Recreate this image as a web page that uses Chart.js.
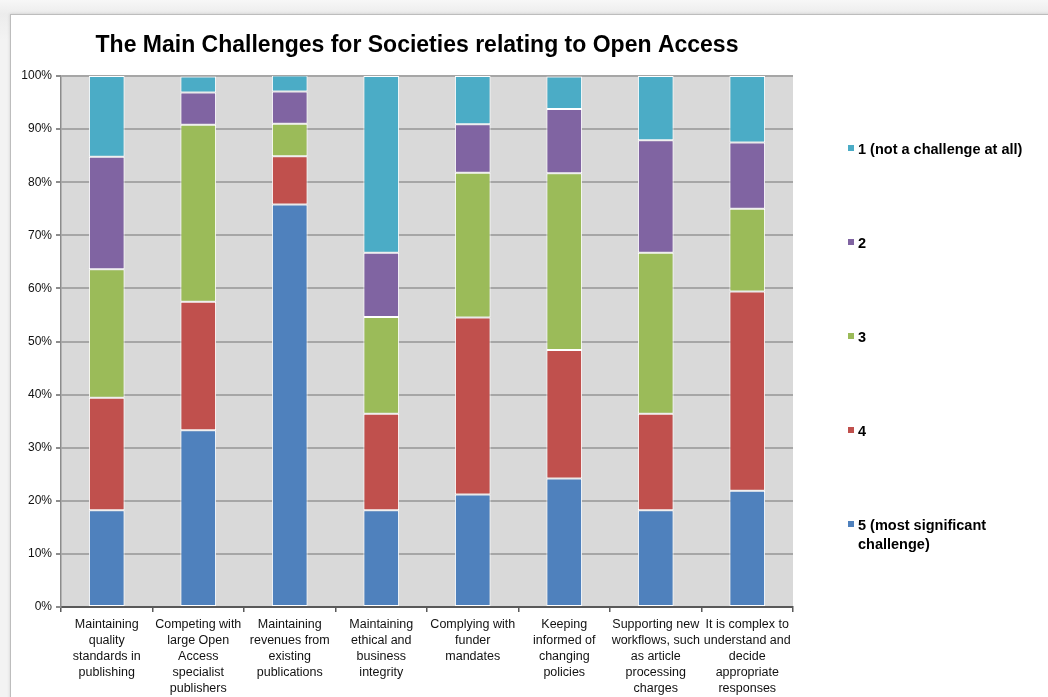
<!DOCTYPE html>
<html>
<head>
<meta charset="utf-8">
<script src="https://cdn.jsdelivr.net/npm/chart.js@4"></script>
<style>
  html, body { margin: 0; padding: 0; }
  body {
    width: 1048px; height: 697px; overflow: hidden;
    background: linear-gradient(#f7f7f7, #ececec 14px, #f3f3f3 40px);
    font-family: "Liberation Sans", Arial, sans-serif;
  }
  .frame {
    position: absolute; left: 10px; top: 14px;
    width: 1040px; height: 690px;
    background: #fff;
    border: 1px solid #bdbdbd;
    box-shadow: 0 0 3px rgba(0,0,0,0.15);
  }
  canvas { display: block; }
</style>
</head>
<body>
<div class="frame">
  <canvas id="challengeChart" width="1037" height="682"></canvas>
</div>
<script>
// challenges (x axis categories), wrapped the way the original shows them
const categories = [
    ['Maintaining', 'quality', 'standards in', 'publishing'],
    ['Competing with', 'large Open', 'Access', 'specialist', 'publishers'],
    ['Maintaining', 'revenues from', 'existing', 'publications'],
    ['Maintaining', 'ethical and', 'business', 'integrity'],
    ['Complying with', 'funder', 'mandates'],
    ['Keeping', 'informed of', 'changing', 'policies'],
    ['Supporting new', 'workflows, such', 'as article', 'processing', 'charges'],
    ['It is complex to', 'understand and', 'decide', 'appropriate', 'responses']
];

// share of respondents (%) for each rating
const rating5 = [18.2, 33.3, 75.8, 18.2, 21.2, 24.2, 18.2, 21.9];
const rating4 = [21.2, 24.2, 9.1, 18.2, 33.3, 24.2, 18.2, 37.5];
const rating3 = [24.2, 33.3, 6.1, 18.2, 27.3, 33.3, 30.3, 15.6];
const rating2 = [21.2, 6.1, 6.1, 12.1, 9.1, 12.1, 21.2, 12.5];
const rating1 = [15.2, 3.0, 3.0, 33.3, 9.1, 6.1, 12.1, 12.5];

const seriesNames = ['5 (most significant challenge)', '4', '3', '2', '1 (not a challenge at all)'];
const yTicks = [0, 10, 20, 30, 40, 50, 60, 70, 80, 90, 100];

const chartTitle = 'The Main Challenges for Societies relating to Open Access';

const colors = ['#4f81bd', '#c0504d', '#9bbb59', '#8064a2', '#4bacc6'];

const FONT = '"Liberation Sans", Arial, sans-serif';

// grey plot background behind the bars
const plotBackground = {
    id: 'plotBackground',
    beforeDraw(chart) {
        const { ctx, chartArea: a } = chart;
        ctx.save();
        ctx.fillStyle = '#d9d9d9';
        ctx.fillRect(a.left, a.top, a.right - a.left, a.bottom - a.top);
        ctx.restore();
    }
};

// title + right-hand legend (1 at top, 5 at bottom)
const titleAndLegend = {
    id: 'titleAndLegend',
    afterDraw(chart) {
        const ctx = chart.ctx;
        ctx.save();
        ctx.fillStyle = '#000';
        ctx.font = 'bold 23px ' + FONT;
        ctx.textAlign = 'center';
        ctx.textBaseline = 'middle';
        ctx.fillText(chartTitle, 406, 31);

        ctx.font = 'bold 14.5px ' + FONT;
        ctx.textAlign = 'left';
        const items = chart.data.datasets.slice().reverse();
        items.forEach((ds, i) => {
            const y = 135 + i * 94;
            ctx.fillStyle = ds.backgroundColor;
            ctx.fillRect(837, y - 5, 6, 6);
            ctx.fillStyle = '#000';
            const lines = ds.label === seriesNames[0] ? ['5 (most significant', 'challenge)'] : [ds.label];
            lines.forEach((t, j) => ctx.fillText(t, 847, y + j * 19));
        });
        ctx.restore();
    }
};

const seriesData = [rating5, rating4, rating3, rating2, rating1];

new Chart(document.getElementById('challengeChart'), {
    type: 'bar',
    data: {
        labels: categories,
        datasets: seriesData.map((d, i) => ({
            label: seriesNames[i],
            data: d,
            backgroundColor: colors[i],
            borderColor: '#ffffff',
            borderWidth: 1,
            borderSkipped: false,
            barPercentage: 0.39,
            categoryPercentage: 1
        }))
    },
    options: {
        responsive: false,
        animation: false,
        layout: { padding: { top: 61, right: 255, left: 0, bottom: 0 } },
        plugins: {
            legend: { display: false },
            title: { display: false },
            tooltip: { enabled: false }
        },
        scales: {
            x: {
                stacked: true,
                afterFit(s) { s.height = 90; },
                grid: {
                    offset: true,
                    drawOnChartArea: false,
                    drawTicks: true,
                    tickLength: 5,
                    color: '#595959',
                    lineWidth: 1.5
                },
                border: { color: '#595959', width: 2 },
                ticks: {
                    autoSkip: false,
                    maxRotation: 0,
                    minRotation: 0,
                    padding: 5,
                    color: '#111',
                    font: { family: FONT, size: 12.5, lineHeight: 1.28 }
                }
            },
            y: {
                stacked: true,
                min: 0,
                max: 100,
                afterFit(s) { s.width = 50; },
                afterBuildTicks(s) { s.ticks = yTicks.map(v => ({ value: v })); },
                grid: {
                    color: '#a6a6a6',
                    lineWidth: 2,
                    drawTicks: true,
                    tickLength: 5,
                    tickColor: '#8c8c8c'
                },
                border: { color: '#8c8c8c', width: 1.5 },
                ticks: {
                    padding: 4,
                    color: '#111',
                    font: { family: FONT, size: 12 },
                    callback: v => v + '%'
                }
            }
        }
    },
    plugins: [plotBackground, titleAndLegend]
});
</script>
</body>
</html>
